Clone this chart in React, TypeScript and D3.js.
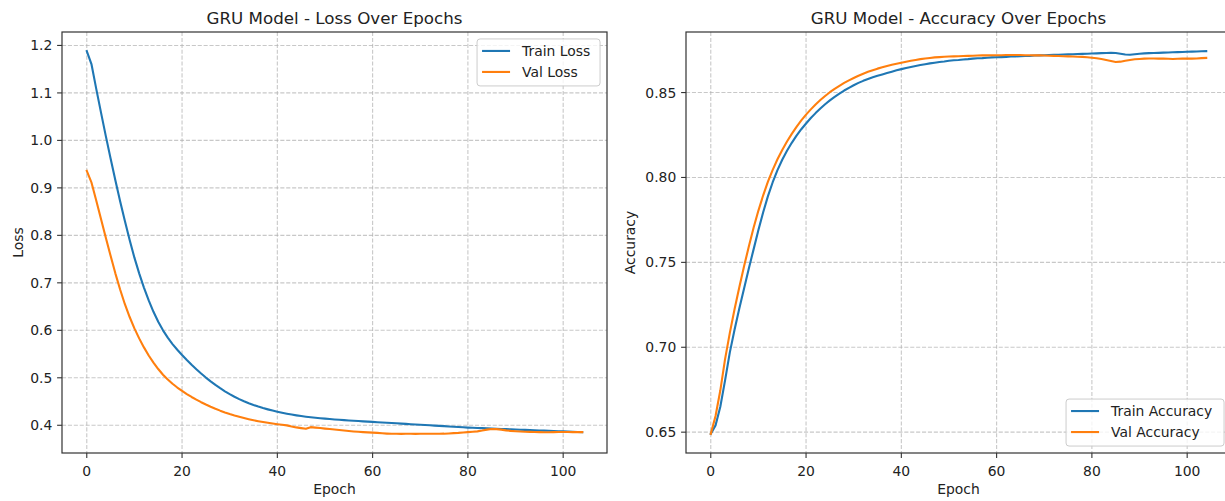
import React from "react";
import * as d3 from "d3";

// ---------- data ----------
const trainLoss = [
  1.188, 1.160, 1.108, 1.058, 1.009, 0.962, 0.916, 0.872, 0.830, 0.790,
  0.753, 0.720, 0.690, 0.663, 0.639, 0.618, 0.600, 0.5845, 0.571, 0.559,
  0.548, 0.5375, 0.5275, 0.518, 0.509, 0.5005, 0.4925, 0.485, 0.478, 0.4715,
  0.4655, 0.460, 0.455, 0.4505, 0.4465, 0.4428, 0.4394, 0.4363, 0.4335, 0.4309,
  0.4285, 0.4263, 0.4243, 0.4225, 0.4209, 0.4194, 0.4181, 0.4169, 0.4158, 0.4148,
  0.4139, 0.4131, 0.4123, 0.4116, 0.4109, 0.4102, 0.4095, 0.4089, 0.4083, 0.4077,
  0.4071, 0.4065, 0.4059, 0.4053, 0.4047, 0.4041, 0.4035, 0.4029, 0.4023, 0.4017,
  0.4011, 0.4005, 0.3999, 0.3993, 0.3987, 0.3981, 0.3975, 0.3969, 0.3963, 0.3957,
  0.3951, 0.3947, 0.3943, 0.3939, 0.3935, 0.3931, 0.3927, 0.3923, 0.3919, 0.3915,
  0.3911, 0.3907, 0.3903, 0.3899, 0.3895, 0.3891, 0.3887, 0.3883, 0.3879, 0.3875,
  0.3871, 0.3867, 0.3863, 0.3859, 0.3855,
];

const valLoss = [
  0.936, 0.911, 0.873, 0.834, 0.795, 0.757, 0.720, 0.686, 0.655, 0.628,
  0.604, 0.583, 0.564, 0.547, 0.532, 0.5185, 0.5065, 0.4965, 0.4875, 0.4795,
  0.4725, 0.4658, 0.4596, 0.4539, 0.4486, 0.4437, 0.4391, 0.4348, 0.4308, 0.4271,
  0.4237, 0.4206, 0.4178, 0.4152, 0.4128, 0.4106, 0.4086, 0.4068, 0.4052, 0.4037,
  0.4023, 0.4010, 0.3998, 0.3975, 0.3955, 0.3940, 0.3925, 0.3960, 0.3950, 0.3942,
  0.3930, 0.3920, 0.3910, 0.3900, 0.3890, 0.3880, 0.3870, 0.3862, 0.3855, 0.3850,
  0.3845, 0.3840, 0.3832, 0.3825, 0.3820, 0.3820, 0.3819, 0.3820, 0.3820, 0.3819,
  0.3820, 0.3820, 0.3820, 0.3821, 0.3821, 0.3823, 0.3828, 0.3835, 0.3840, 0.3848,
  0.3856, 0.3865, 0.3872, 0.3888, 0.3908, 0.3920, 0.3918, 0.3908, 0.3893, 0.3882,
  0.3874, 0.3868, 0.3863, 0.3860, 0.3858, 0.3855, 0.3853, 0.3853, 0.3856, 0.3858,
  0.3858, 0.3857, 0.3855, 0.3856, 0.3856,
];

const trainAcc = [
  0.6490, 0.6540, 0.6650, 0.6805, 0.6970, 0.7105, 0.7230, 0.7348, 0.7465, 0.7578,
  0.7690, 0.7795, 0.7890, 0.7972, 0.8043, 0.8104, 0.8157, 0.8204, 0.8246, 0.8284,
  0.8318, 0.8350, 0.8379, 0.8406, 0.8431, 0.8454, 0.8475, 0.8494, 0.8512, 0.8528,
  0.8543, 0.8557, 0.8569, 0.8580, 0.8590, 0.8599, 0.8607, 0.8615, 0.8623, 0.8631,
  0.8638, 0.8645, 0.8651, 0.8657, 0.8662, 0.8667, 0.8672, 0.8676, 0.8680, 0.8683,
  0.8687, 0.8690, 0.8692, 0.8695, 0.8697, 0.8700, 0.8702, 0.8703, 0.8705, 0.8707,
  0.8708, 0.8709, 0.8710, 0.8712, 0.8713, 0.8714, 0.8715, 0.8716, 0.8718, 0.8719,
  0.8720, 0.8721, 0.8722, 0.8723, 0.8724, 0.8725, 0.8726, 0.8727, 0.8728, 0.8729,
  0.8730, 0.8731, 0.8732, 0.8733, 0.8734, 0.8733, 0.8729, 0.8724, 0.8723, 0.8726,
  0.8729, 0.8731, 0.8732, 0.8733, 0.8734, 0.8735, 0.8736, 0.8737, 0.8738, 0.8739,
  0.8740, 0.8741, 0.8742, 0.8743, 0.8744,
];

const valAcc = [
  0.6490, 0.6595, 0.6745, 0.6930, 0.7085, 0.7225, 0.7355, 0.7478, 0.7595, 0.7705,
  0.7805, 0.7895, 0.7975, 0.8045, 0.8107, 0.8162, 0.8212, 0.8257, 0.8298, 0.8336,
  0.8370, 0.8401, 0.8430, 0.8456, 0.8480, 0.8502, 0.8522, 0.8540, 0.8557, 0.8572,
  0.8586, 0.8599, 0.8611, 0.8622, 0.8632, 0.8641, 0.8649, 0.8657, 0.8664, 0.8670,
  0.8676, 0.8682, 0.8687, 0.8692, 0.8697, 0.8701, 0.8704, 0.8707, 0.8709, 0.8711,
  0.8712, 0.8713, 0.8714, 0.8715, 0.8716, 0.8717, 0.8718, 0.8719, 0.8719, 0.8720,
  0.8720, 0.8720, 0.8721, 0.8721, 0.8721, 0.8721, 0.8720, 0.8720, 0.8719, 0.8719,
  0.8718, 0.8717, 0.8716, 0.8715, 0.8714, 0.8713, 0.8712, 0.8711, 0.8710, 0.8708,
  0.8705, 0.8702, 0.8698, 0.8692, 0.8686, 0.8680, 0.8682, 0.8687, 0.8692, 0.8696,
  0.8698, 0.8700, 0.8701, 0.8701, 0.8700, 0.8700, 0.8699, 0.8698, 0.8699, 0.8700,
  0.8701, 0.8700, 0.8701, 0.8703, 0.8704,
];

const epochTicks = [0, 20, 40, 60, 80, 100];
const lossTicks = [0.4, 0.5, 0.6, 0.7, 0.8, 0.9, 1.0, 1.1, 1.2];
const accTicks = [0.65, 0.7, 0.75, 0.8, 0.85];

const lossLabels = ["Train Loss", "Val Loss"];
const accLabels = ["Train Accuracy", "Val Accuracy"];
const colors = ["#1f77b4", "#ff7f0e"];

// ---------- layout ----------
const W = 1225;
const H = 501;
const FONT = "DejaVu Sans, sans-serif";
const FS = 13.9;
const TITLE_FS = 16.7;
const TEXT = "#222";

type PanelProps = {
  x0: number;
  x1: number;
  y0: number;
  y1: number;
  series: number[][];
  labels: string[];
  yTicks: number[];
  yFmt: (v: number) => string;
  title: string;
  ylabel: string;
  ylabelX: number;
  legendPos: "upper" | "lower";
  legendW: number;
};

function Panel(p: PanelProps) {
  const n = p.series[0].length;
  const xmax = n - 1;
  const xm = xmax * 0.05;
  const x = d3.scaleLinear().domain([-xm, xmax + xm]).range([p.x0, p.x1]);
  const all = p.series.flat();
  const lo = d3.min(all)!;
  const hi = d3.max(all)!;
  const ym = (hi - lo) * 0.05;
  const y = d3.scaleLinear().domain([lo - ym, hi + ym]).range([p.y1, p.y0]);
  const line = d3
    .line<number>()
    .x((_, i) => x(i))
    .y((d) => y(d));
  const cx = (p.x0 + p.x1) / 2;
  const cy = (p.y0 + p.y1) / 2;

  const pad = 6.95;
  const legH = 47;
  const lx = p.x1 - pad - p.legendW;
  const ly = p.legendPos === "upper" ? p.y0 + pad : p.y1 - pad - legH;

  return (
    <g>
      {epochTicks.map((t) => (
        <line
          key={"gx" + t}
          x1={x(t)}
          x2={x(t)}
          y1={p.y0}
          y2={p.y1}
          stroke="#b0b0b0"
          strokeOpacity={0.7}
          strokeWidth={1.1}
          strokeDasharray="4.1,1.8"
        />
      ))}
      {p.yTicks.map((t) => (
        <line
          key={"gy" + t}
          x1={p.x0}
          x2={p.x1}
          y1={y(t)}
          y2={y(t)}
          stroke="#b0b0b0"
          strokeOpacity={0.7}
          strokeWidth={1.1}
          strokeDasharray="4.1,1.8"
        />
      ))}
      {p.series.map((s, i) => (
        <path
          key={"s" + i}
          d={line(s) || ""}
          fill="none"
          stroke={colors[i]}
          strokeWidth={2.1}
          strokeLinejoin="round"
          strokeLinecap="square"
        />
      ))}
      <rect
        x={p.x0}
        y={p.y0}
        width={p.x1 - p.x0}
        height={p.y1 - p.y0}
        fill="none"
        stroke="#333"
        strokeWidth={1.2}
      />
      {epochTicks.map((t) => (
        <g key={"xt" + t}>
          <line x1={x(t)} x2={x(t)} y1={p.y1} y2={p.y1 + 4.9} stroke="#333" strokeWidth={1.1} />
          <text
            x={x(t)}
            y={p.y1 + 23}
            textAnchor="middle"
            fontFamily={FONT}
            fontSize={FS}
            fill={TEXT}
          >
            {t}
          </text>
        </g>
      ))}
      {p.yTicks.map((t) => (
        <g key={"yt" + t}>
          <line x1={p.x0 - 4.9} x2={p.x0} y1={y(t)} y2={y(t)} stroke="#333" strokeWidth={1.1} />
          <text
            x={p.x0 - 9.7}
            y={y(t)}
            dy="0.36em"
            textAnchor="end"
            fontFamily={FONT}
            fontSize={FS}
            fill={TEXT}
          >
            {p.yFmt(t)}
          </text>
        </g>
      ))}
      <text x={cx} y={24} textAnchor="middle" fontFamily={FONT} fontSize={TITLE_FS} fill={TEXT}>
        {p.title}
      </text>
      <text x={cx} y={494} textAnchor="middle" fontFamily={FONT} fontSize={FS} fill={TEXT}>
        Epoch
      </text>
      <text
        transform={`translate(${p.ylabelX},${cy}) rotate(-90)`}
        textAnchor="middle"
        dy="0.36em"
        fontFamily={FONT}
        fontSize={FS}
        fill={TEXT}
      >
        {p.ylabel}
      </text>
      <rect
        x={lx}
        y={ly}
        width={p.legendW}
        height={legH}
        rx={3}
        ry={3}
        fill="white"
        fillOpacity={0.8}
        stroke="#cccccc"
        strokeWidth={1}
      />
      {p.labels.map((lab, i) => {
        const ry = ly + 12 + i * 21;
        return (
          <g key={"lg" + i}>
            <line
              x1={lx + 5}
              x2={lx + 33}
              y1={ry}
              y2={ry}
              stroke={colors[i]}
              strokeWidth={2.1}
            />
            <text
              x={lx + 45}
              y={ry}
              dy="0.36em"
              fontFamily={FONT}
              fontSize={FS}
              fill={TEXT}
            >
              {lab}
            </text>
          </g>
        );
      })}
    </g>
  );
}

export default function App() {
  return (
    <svg
      width={W}
      height={H}
      viewBox={`0 0 ${W} ${H}`}
      style={{ position: "absolute", left: 0, top: 0, background: "white" }}
    >
      <rect x={0} y={0} width={W} height={H} fill="white" />
      <Panel
        x0={62}
        x1={607}
        y0={32}
        y1={453}
        series={[trainLoss, valLoss]}
        labels={lossLabels}
        yTicks={lossTicks}
        yFmt={d3.format(".1f")}
        title="GRU Model - Loss Over Epochs"
        ylabel="Loss"
        ylabelX={18}
        legendPos="upper"
        legendW={123}
      />
      <Panel
        x0={686}
        x1={1231}
        y0={32}
        y1={453}
        series={[trainAcc, valAcc]}
        labels={accLabels}
        yTicks={accTicks}
        yFmt={d3.format(".2f")}
        title="GRU Model - Accuracy Over Epochs"
        ylabel="Accuracy"
        ylabelX={630}
        legendPos="lower"
        legendW={158}
      />
    </svg>
  );
}
